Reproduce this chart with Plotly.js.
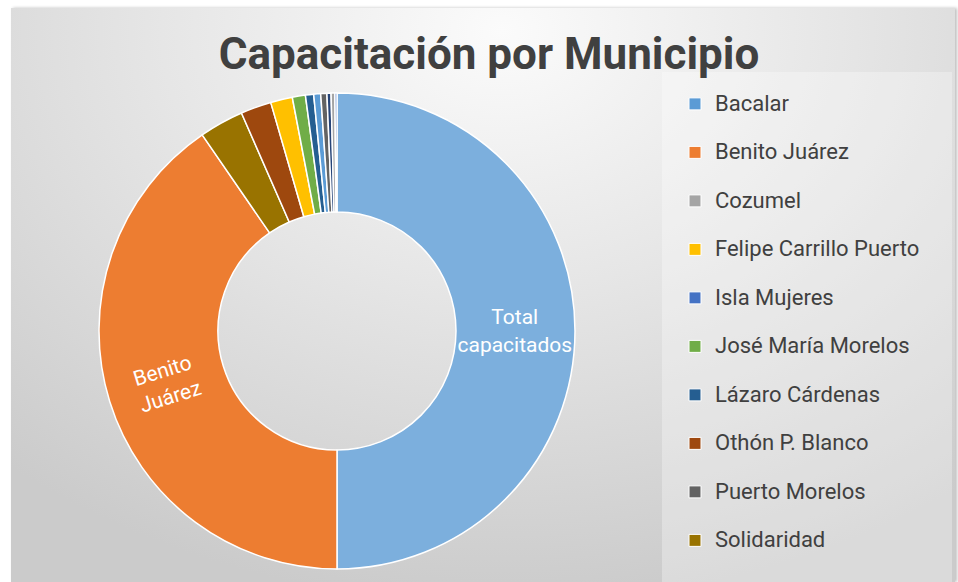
<!DOCTYPE html>
<html>
<head>
<meta charset="utf-8">
<script src="https://cdn.plot.ly/plotly-3.0.1.min.js"></script>
<style>
  html, body { margin: 0; padding: 0; background: #ffffff; }
  #bg {
    position: absolute; left: 11px; top: 8px; width: 944px; height: 574px;
    background: radial-gradient(ellipse 80% 100% at 52% 4%, #fbfbfb 0%, #e6e6e6 45%, #cbcbcb 100%);
    box-shadow: 2px 0 3px rgba(0,0,0,0.25);
  }
  #chart { position: absolute; left: 0; top: 0; width: 958px; height: 582px; }
</style>
</head>
<body>
<div id="bg"></div>
<div id="chart"></div>
<script>
// ---- data ----
const municipios = [
  "Bacalar", "Benito Juárez", "Cozumel", "Felipe Carrillo Puerto", "Isla Mujeres",
  "José María Morelos", "Lázaro Cárdenas", "Othón P. Blanco", "Puerto Morelos",
  "Solidaridad", "Tulum", "Total capacitados"
];
const capacitados = [51, 4365, 28, 160, 15, 96, 60, 225, 45, 325, 30, 5400];
const colores = [
  "#5B9BD5", "#ED7D31", "#A5A5A5", "#FFC000", "#4472C4",
  "#70AD47", "#255E91", "#9E480E", "#636363", "#997300", "#264478", "#7CAFDD"
];
// slice labels shown inside the ring
const etiquetasSector = ["", "Benito<br>Juárez", "", "", "", "", "", "", "", "", "", "Total<br>capacitados"];
const titulo = "Capacitación por Municipio";
const itemsLeyendaVisibles = 10;   // the reference legend box only shows the first 10 entries

// legend labels: larger first line, empty second line to get the item spacing
const etiquetas = municipios.map(m => '<span style="font-size:22px">' + m + '</span><br>\u00a0');

const W = 958, H = 582;
const cx = 337, cy = 331, R = 238;       // donut centre / radius in px
const HOLE = 0.5;
const r2 = 200;                          // ordering ring (hidden under main ring)

// labels placed by Plotly (horizontal) vs. labels that need radial tilt (computed from data)
const textoPie = etiquetasSector.map((t, i) => (t && i === municipios.length - 1) ? t : "");

const legendOrder = {
  type: "pie",
  labels: etiquetas.slice(0, itemsLeyendaVisibles),
  values: capacitados.slice(0, itemsLeyendaVisibles),
  marker: { colors: colores.slice(0, itemsLeyendaVisibles), line: { color: "#ffffff", width: 1 } },
  sort: false,
  direction: "clockwise",
  hole: 0.75,
  textinfo: "none",
  hoverinfo: "skip",
  showlegend: true,
  domain: {
    x: [(cx - r2) / W, (cx + r2) / W],
    y: [(H - cy - r2) / H, (H - cy + r2) / H]
  }
};

const donut = {
  type: "pie",
  labels: etiquetas,
  values: capacitados,
  text: textoPie,
  marker: { colors: colores, line: { color: "#ffffff", width: 1.5 } },
  sort: true,
  direction: "clockwise",
  rotation: 0,
  hole: HOLE,
  textinfo: "text",
  textposition: "inside",
  insidetextorientation: "horizontal",
  textfont: { family: "Roboto", size: 21, color: "#ffffff" },
  hoverinfo: "skip",
  showlegend: false,
  domain: {
    x: [(cx - R) / W, (cx + R) / W],
    y: [(H - cy - R) / H, (H - cy + R) / H]
  }
};

// radial labels for the remaining text slices, at each slice's mid-angle (same sort as the pie)
const total = capacitados.reduce((a, b) => a + b, 0);
const orden = capacitados.map((v, i) => i).sort((a, b) => capacitados[b] - capacitados[a]);
const anotaciones = [];
let acum = 0;
orden.forEach(i => {
  const span = capacitados[i] / total * 360;
  const mid = acum + span / 2;
  acum += span;
  if (etiquetasSector[i] && textoPie[i] === "") {
    const rr = R * (1 + HOLE) / 2;
    const a = mid * Math.PI / 180;
    const px = cx + rr * Math.sin(a);
    const py = cy - rr * Math.cos(a);
    let ang = mid - 270;
    if (mid < 180) ang = mid - 90;
    anotaciones.push({
      x: px / W, y: 1 - py / H, xref: "paper", yref: "paper",
      text: etiquetasSector[i], showarrow: false, textangle: ang,
      xanchor: "center", yanchor: "middle",
      font: { family: "Roboto", size: 21, color: "#ffffff" }
    });
  }
});

const layout = {
  width: W, height: H,
  margin: { l: 0, r: 0, t: 0, b: 0 },
  paper_bgcolor: "rgba(0,0,0,0)",
  plot_bgcolor: "rgba(0,0,0,0)",
  title: {
    text: titulo,
    font: { family: "Roboto", size: 44, color: "#404040", weight: "bold" },
    x: 489 / W, xanchor: "center", xref: "container",
    y: 1 - 54 / H, yanchor: "middle", yref: "container"
  },
  legend: {
    x: 675 / W, xanchor: "left",
    y: 1 - 86 / H, yanchor: "top",
    valign: "top",
    bgcolor: "rgba(0,0,0,0)",
    font: { family: "Roboto", size: 17.5, color: "#404040" }
  },
  annotations: anotaciones,
  shapes: [{
    type: "rect", xref: "paper", yref: "paper", layer: "below",
    x0: 662 / W, x1: 952 / W, y0: 0, y1: 1 - 72 / H,
    fillcolor: "rgba(255,255,255,0.3)", line: { width: 0 }
  }]
};

Plotly.newPlot("chart", [legendOrder, donut], layout, { staticPlot: true, displayModeBar: false });
</script>
</body>
</html>
